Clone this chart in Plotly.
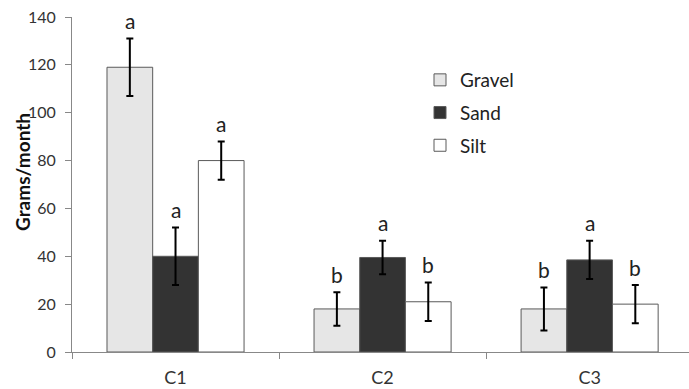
import plotly.graph_objects as go

categories = ["C1", "C2", "C3"]
gravel = [119, 18, 18]
gravel_err = [12, 7, 9]
sand = [40, 39.5, 38.5]
sand_err = [12, 7, 8]
silt = [80, 21, 20]
silt_err = [8, 8, 8]
gravel_letters = ["a", "b", "b"]
sand_letters = ["a", "a", "a"]
silt_letters = ["a", "b", "b"]
y_ticks = [0, 20, 40, 60, 80, 100, 120, 140]

series = [
    ("Gravel", gravel, gravel_err, gravel_letters, "#e6e6e6"),
    ("Sand", sand, sand_err, sand_letters, "#333333"),
    ("Silt", silt, silt_err, silt_letters, "#ffffff"),
]

bargap = 0.338
barw = (1 - bargap) / 3

fig = go.Figure()
annotations = []
for j, (name, vals, errs, letters, color) in enumerate(series):
    fig.add_trace(go.Bar(
        name=name, x=categories, y=vals,
        marker=dict(color=color, line=dict(color="#5a5a5a", width=1)),
        error_y=dict(type="data", array=errs, visible=True, color="#000000",
                     thickness=2, width=3.5),
        legendgroup=name,
    ))
    for i, (v, e, l) in enumerate(zip(vals, errs, letters)):
        annotations.append(dict(
            x=i + (j - 1) * barw, y=v + e, xref="x", yref="y",
            text=l, showarrow=False, yanchor="middle", yshift=18,
            font=dict(family="Lato", size=21, color="#222222"),
        ))

annotations.append(dict(
    x=-50 / 617, y=(352 - 172) / 335, xref="paper", yref="paper",
    text="<b>Grams/month</b>", textangle=-90, showarrow=False,
    xanchor="center", yanchor="middle",
    font=dict(family="Lato", size=19, color="#111111"),
))

fig.update_layout(
    width=689, height=389,
    margin=dict(l=72, r=0, t=17, b=37),
    paper_bgcolor="white", plot_bgcolor="white",
    barmode="group", bargap=bargap, bargroupgap=0,
    annotations=annotations,
    legend=dict(x=(420 - 72) / 617, y=(352 - 61) / 335, xanchor="left", yanchor="top",
                font=dict(family="Lato", size=19, color="#222222"),
                tracegroupgap=5, bgcolor="rgba(0,0,0,0)"),
    showlegend=True,
)
fig.update_xaxes(
    type="category", range=[-0.5, 2.48],
    showline=True, linecolor="#888888", linewidth=1,
    ticks="outside", tickson="boundaries", ticklen=6, tickcolor="#888888",
    ticklabelstandoff=9, automargin=False,
    tickfont=dict(family="Lato", size=18, color="#333333"),
    showgrid=False, zeroline=False,
)
fig.update_yaxes(
    range=[0, 140], tickvals=y_ticks,
    showline=True, linecolor="#888888", linewidth=1,
    ticks="outside", ticklen=6, tickcolor="#888888",
    ticklabelstandoff=6, automargin=False,
    tickfont=dict(family="Lato", size=16, color="#333333"),
    showgrid=False, zeroline=False,
)
fig.write_html("out.html", config={"displayModeBar": False},
               post_script="document.body.style.margin='0';document.body.style.overflow='hidden';")
